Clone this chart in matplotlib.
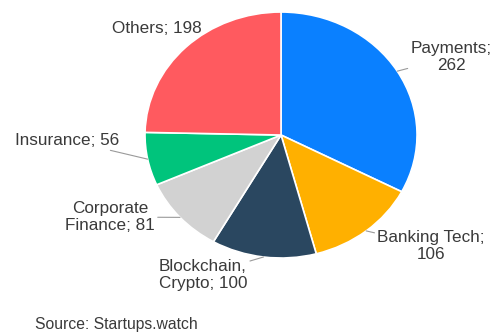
import numpy as np
import matplotlib
matplotlib.use("Agg")
import matplotlib.pyplot as plt

plt.rcParams['font.family'] = ['Liberation Sans', 'DejaVu Sans']

# fintech startups by segment
categories = ["Payments", "Banking Tech", "Blockchain,\nCrypto", "Corporate\nFinance", "Insurance", "Others"]
counts = [262, 106, 100, 81, 56, 198]
separators = ["\n", "\n", " ", " ", " ", " "]
colors = ["#0A80FF", "#FFB000", "#2A4760", "#D2D2D2", "#00C47C", "#FF5A5F"]

# label centres in axes data units, and whether a leader line is drawn
label_pos = [(1.25, 0.634), (1.103, -0.902), (-0.574, -1.138),
             (-1.257, -0.667), (-1.574, -0.041), (-0.912, 0.870)]
leader = [True, True, True, True, True, False]

fig = plt.figure(figsize=(4.98, 3.34), dpi=100)
ax = fig.add_axes([0.2912, 0.2275, 0.5462, 0.7365])

wedges, _ = ax.pie(counts, colors=colors, startangle=90, counterclock=False,
                   wedgeprops=dict(edgecolor="white", linewidth=1.2))
ax.set_aspect('auto')
ax.set_xlim(-1, 1)
ax.set_ylim(-1, 1)

txt_color = "#3A3A3A"
for w, name, val, sep, pos, ld in zip(wedges, categories, counts, separators, label_pos, leader):
    mid = np.deg2rad((w.theta1 + w.theta2) / 2)
    edge = (np.cos(mid), np.sin(mid))
    text = f"{name};{sep}{val}"
    if ld:
        ax.annotate(text, xy=edge, xytext=pos, ha="center", va="center",
                    fontsize=12.3, color=txt_color, multialignment="center",
                    annotation_clip=False,
                    arrowprops=dict(arrowstyle="-", color="#9A9A9A", lw=0.8,
                                    shrinkA=0, shrinkB=0))
    else:
        ax.text(pos[0], pos[1], text, ha="center", va="center", fontsize=12.3,
                color=txt_color, multialignment="center", clip_on=False)

fig.text(0.070, 0.027, "Source: Startups.watch", fontsize=11.3, color=txt_color,
         ha="left", va="center")

fig.savefig("out.png", dpi=100)
